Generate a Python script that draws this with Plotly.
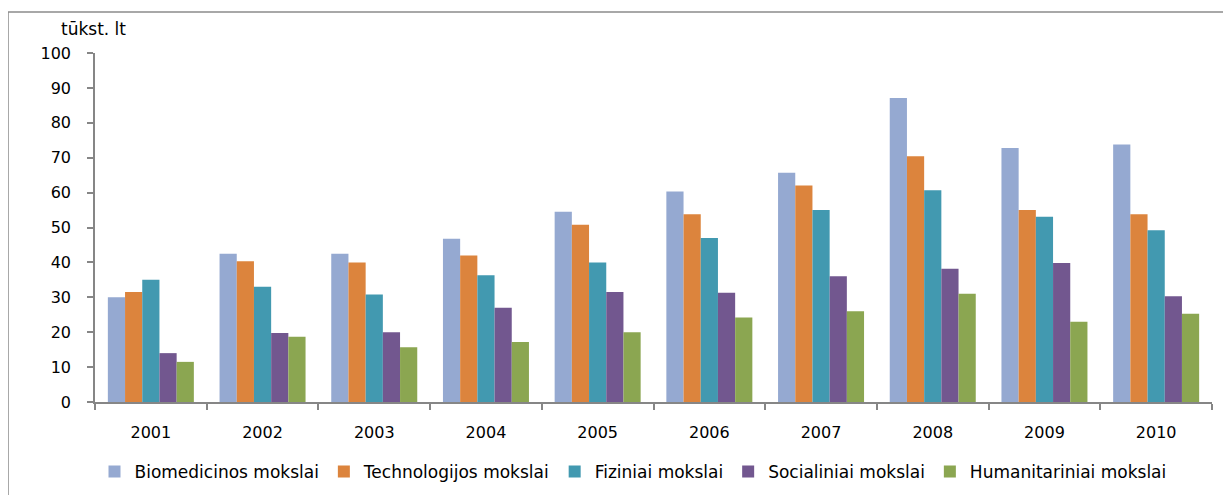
import plotly.graph_objects as go

years = ["2001", "2002", "2003", "2004", "2005", "2006", "2007", "2008", "2009", "2010"]
biomed = [30.0, 42.5, 42.5, 46.8, 54.5, 60.3, 65.7, 87.1, 72.8, 73.8]
techno = [31.5, 40.3, 40.0, 42.0, 50.8, 53.8, 62.0, 70.4, 55.0, 53.8]
fizin = [35.0, 33.0, 30.8, 36.3, 40.0, 47.0, 55.0, 60.7, 53.1, 49.2]
social = [14.0, 19.8, 20.0, 27.0, 31.5, 31.3, 36.0, 38.2, 39.8, 30.3]
human = [11.5, 18.7, 15.7, 17.2, 20.0, 24.2, 26.0, 31.0, 23.0, 25.3]

names = ["Biomedicinos mokslai", "Technologijos mokslai", "Fiziniai mokslai",
         "Socialiniai mokslai", "Humanitariniai mokslai"]
colors = ["#95A9D1", "#DC843D", "#4299B0", "#72578F", "#8BA651"]
series = [biomed, techno, fizin, social, human]

FONT = "'DejaVu Sans', sans-serif"

# page body has an 8px margin, so figure coords = screen coords - 8
PL, PR, PT, PB = 95, 1212, 53, 402   # plot area in screen pixels
W, H = 1231, 495
PW, PH = PR - PL, PB - PT

fig = go.Figure()
for n, c, s in zip(names, colors, series):
    fig.add_trace(go.Bar(x=years, y=s, name=n, marker=dict(color=c, line=dict(width=0))))

fig.update_layout(
    width=W, height=H,
    margin=dict(l=PL - 8, r=W - (PR - 8), t=PT - 8, b=H - (PB - 8), autoexpand=False),
    paper_bgcolor="white", plot_bgcolor="white",
    barmode="group", bargap=0.23, bargroupgap=0,
    font=dict(family=FONT, size=16, color="#000000"),
    showlegend=True,
    legend=dict(orientation="h", x=(633 - PL) / PW, xanchor="center", y=-(472 - PB) / PH,
                yanchor="middle", font=dict(family=FONT, size=17), itemwidth=30,
                tracegroupgap=0, traceorder="normal"),
    xaxis=dict(type="category", showline=True, linecolor="#868686", linewidth=1.5,
               ticks="outside", tickson="boundaries", ticklen=6, tickcolor="#868686",
               tickwidth=1.5, showgrid=False, tickfont=dict(size=16), ticklabelstandoff=15,
               automargin=False),
    yaxis=dict(range=[0, 100], dtick=10, showline=True, linecolor="#868686", linewidth=1.5,
               ticks="outside", ticklen=6, tickcolor="#868686", tickwidth=1.5,
               showgrid=False, zeroline=False, tickfont=dict(size=16), ticklabelstandoff=13,
               automargin=False),
)

fig.add_annotation(text="tūkst. lt", xref="paper", yref="paper", x=(93 - PL) / PW,
                   y=(PB - 29) / PH,
                   xanchor="center", yanchor="middle", showarrow=False,
                   font=dict(family=FONT, size=17))

fig.add_shape(type="rect", xref="paper", yref="paper",
              x0=(8 - PL) / PW, x1=1.2, y0=-0.5, y1=(PB - 12) / PH,
              line=dict(color="#8C8C8C", width=1.5), fillcolor="rgba(0,0,0,0)", layer="below")

fig.write_html("out.html")
